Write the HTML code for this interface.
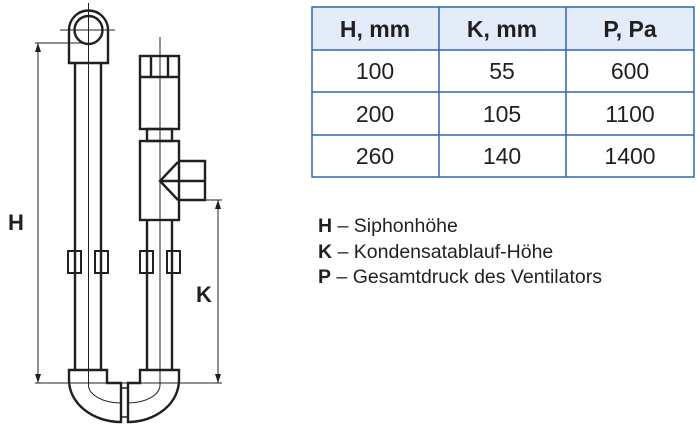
<!DOCTYPE html>
<html><head><meta charset="utf-8"><style>
html,body{margin:0;padding:0;background:#fff;}
svg{display:block;}
text{font-family:"Liberation Sans",Arial,sans-serif;fill:#231f20;}
</style></head><body>
<svg width="700" height="427" viewBox="0 0 700 427" xmlns="http://www.w3.org/2000/svg">
<g fill="none" stroke="#231f20" stroke-linejoin="miter">
<path d="M69,63 V30 A19.5,19.5 0 0 1 108,30 V63 Z" stroke-width="2.4"/>
<circle cx="88.5" cy="30" r="14" stroke-width="2.4"/>
<path d="M60,30 H115 M88.5,3 V370" stroke-width="1"/>
<path d="M75,63 V370 M101,63 V370" stroke-width="2.4"/>
<path d="M160,37 V383" stroke-width="1"/>
<rect x="140" y="56" width="39" height="73" stroke-width="2.4"/>
<path d="M140,77 H179 M151,56 V77 M168,56 V77" stroke-width="2.4"/>
<rect x="147" y="129" width="25" height="12" stroke-width="2.4"/>
<rect x="140" y="141" width="39" height="79" stroke-width="2.4"/>
<path d="M179,161 H205 V200 H179 M160,181 H205 M178,162 L160,181 L178,200" stroke-width="2.4"/>
<path d="M147,220 V370 M172,220 V370" stroke-width="2.4"/>
<rect x="68" y="251" width="13" height="22" stroke-width="2"/>
<rect x="95" y="251" width="13" height="22" stroke-width="2"/>
<rect x="140" y="251" width="13" height="22" stroke-width="2"/>
<rect x="167" y="251" width="13" height="22" stroke-width="2"/>
<path d="M69,370 H107 V383 H121 V422 A52,42 0 0 1 69,380 Z" stroke-width="2.4"/>
<path d="M88.5,370 V385 A33,18 0 0 0 121,403" stroke-width="1"/>
<path d="M179,370 H140 V383 H128 V422 A51,42 0 0 0 179,380 Z" stroke-width="2.4"/>
<path d="M160,370 V385 A32,18 0 0 1 128,403" stroke-width="1"/>
<rect x="121" y="388" width="7" height="29" stroke-width="1.5"/>
<path d="M35,43 H82 M38,43 V383 M35,383 H222 M205,200 H222 M218,200 V383" stroke-width="1"/>
</g>
<g fill="#231f20">
<path d="M38,43 l-3,9 h6 Z"/>
<path d="M38,383 l-3,-9 h6 Z"/>
<path d="M218,200 l-3,9 h6 Z"/>
<path d="M218,383 l-3,-9 h6 Z"/>
</g>
<text x="8" y="230" font-size="22" font-weight="bold" fill="#3a3a3a">H</text>
<text x="196" y="302" font-size="22" font-weight="bold" fill="#3a3a3a">K</text>
<rect x="312" y="7" width="382" height="43" fill="#e3ecf8"/>
<g stroke="#2f67b4" stroke-width="1.5" fill="none">
<rect x="312" y="7" width="382" height="170"/>
<path d="M439,7 V177 M566,7 V177 M312,50 H694 M312,92 H694 M312,135 H694"/>
</g>
<g font-size="23" text-anchor="middle">
<text x="375" y="37" font-weight="bold">H, mm</text>
<text x="502" y="37" font-weight="bold">K, mm</text>
<text x="630" y="37" font-weight="bold">P, Pa</text>
<text x="375" y="79">100</text><text x="502" y="79">55</text><text x="630" y="79">600</text>
<text x="375" y="122">200</text><text x="502" y="122">105</text><text x="630" y="122">1100</text>
<text x="375" y="164">260</text><text x="502" y="164">140</text><text x="630" y="164">1400</text>
</g>
<g font-size="19.5">
<text x="318" y="232"><tspan font-weight="bold">H</tspan> – Siphonhöhe</text>
<text x="318" y="258"><tspan font-weight="bold">K</tspan> – Kondensatablauf-Höhe</text>
<text x="318" y="283"><tspan font-weight="bold">P</tspan> – Gesamtdruck des Ventilators</text>
</g>
</svg>
</body></html>
